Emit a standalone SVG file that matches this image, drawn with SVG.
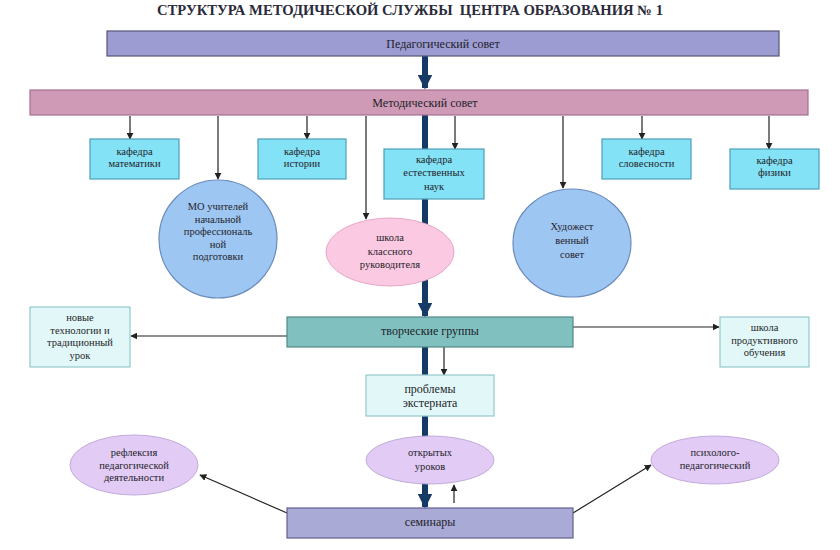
<svg xmlns="http://www.w3.org/2000/svg" width="840" height="550" viewBox="0 0 840 550" font-family="'Liberation Serif', 'Times New Roman', serif">
<defs>
<style>
text{font-family:"Liberation Serif","Times New Roman",serif;fill:#1e1e2a;text-anchor:middle}
.t{font-family:"Liberation Serif",serif;font-size:10.5px}
.m{font-family:"Liberation Serif",serif;font-size:12px}
.title{font-family:"Liberation Serif",serif;font-size:14px;font-weight:bold;fill:#2a2a3a}
.thin{stroke:#222;stroke-width:1.2;fill:none;marker-end:url(#ah)}
.thick{stroke:#163a66;stroke-width:6;fill:none;marker-end:url(#bh)}
.kaf{fill:#84e2f6;stroke:#4d9fb8;stroke-width:1.2}
.lc{fill:#e2f8f8;stroke:#94c8cc;stroke-width:1.2}
.circ{fill:#9ec6f2;stroke:#6a8cbc;stroke-width:1.2}
.lav{fill:#e2cbf5;stroke:#c2aadc;stroke-width:1}
</style>
<marker id="ah" viewBox="0 0 10 10" refX="9" refY="5" markerWidth="7" markerHeight="7" orient="auto" markerUnits="userSpaceOnUse"><path d="M0,0 L10,5 L0,10 z" fill="#222"/></marker>
<marker id="bh" viewBox="0 0 10 10" refX="9" refY="5" markerWidth="15" markerHeight="15" orient="auto" markerUnits="userSpaceOnUse"><path d="M0,0 L10,5 L0,10 z" fill="#163a66"/></marker>
</defs>
<rect width="840" height="550" fill="#fff"/>
<text class="title" x="410" y="15" textLength="506" lengthAdjust="spacingAndGlyphs" xml:space="preserve">СТРУКТУРА МЕТОДИЧЕСКОЙ СЛУЖБЫ  ЦЕНТРА ОБРАЗОВАНИЯ № 1</text>
<g id="connectors">
<line class="thick" x1="425" y1="56" x2="425" y2="88"/>
<line class="thick" x1="425" y1="115" x2="425" y2="316"/>
<line class="thick" x1="425" y1="347" x2="425" y2="507"/>
<line class="thin" x1="130" y1="116" x2="130" y2="139"/>
<line class="thin" x1="218" y1="116" x2="218" y2="179"/>
<line class="thin" x1="307" y1="116" x2="307" y2="139"/>
<line class="thin" x1="366" y1="116" x2="366" y2="219"/>
<line class="thin" x1="455" y1="116" x2="455" y2="149"/>
<line class="thin" x1="563" y1="116" x2="563" y2="188"/>
<line class="thin" x1="642" y1="116" x2="642" y2="139"/>
<line class="thin" x1="769" y1="116" x2="769" y2="149"/>
<line class="thin" x1="287" y1="336" x2="131" y2="336"/>
<line class="thin" x1="573" y1="327" x2="719" y2="327"/>
<line class="thin" x1="444" y1="347" x2="444" y2="375"/>
<line class="thin" x1="454" y1="503" x2="454" y2="485"/>
<line class="thin" x1="287" y1="513" x2="200" y2="475"/>
<line class="thin" x1="573" y1="513" x2="651" y2="465"/>
</g>
<g id="ped-sovet"><rect x="107" y="31" width="672" height="25" fill="#9c9cd2" stroke="#555577" stroke-width="1.2"/><text class="m" x="443" y="48">Педагогический совет</text></g>
<g id="met-sovet"><rect x="30" y="90" width="778" height="25" fill="#cf9ab6" stroke="#a47092" stroke-width="1.2"/><text class="m" x="425" y="107">Методический совет</text></g>
<g id="kaf-math"><rect class="kaf" x="90" y="139" width="89" height="40"/><text class="t" x="134.5" y="155">кафедра</text><text class="t" x="134.5" y="167">математики</text></g>
<g id="kaf-hist"><rect class="kaf" x="258" y="139" width="88" height="40"/><text class="t" x="302" y="155">кафедра</text><text class="t" x="302" y="167">истории</text></g>
<g id="kaf-est"><rect class="kaf" x="384" y="149" width="100" height="50"/><text class="t" x="434" y="163">кафедра</text><text class="t" x="434" y="176">естественных</text><text class="t" x="434" y="190">наук</text></g>
<g id="kaf-slov"><rect class="kaf" x="602" y="139" width="89" height="40"/><text class="t" x="646.5" y="155">кафедра</text><text class="t" x="646.5" y="167">словесности</text></g>
<g id="kaf-fiz"><rect class="kaf" x="730" y="149" width="89" height="40"/><text class="t" x="774.5" y="164">кафедра</text><text class="t" x="774.5" y="176">физики</text></g>
<g id="mo"><ellipse class="circ" cx="218" cy="239" rx="59" ry="59"/><text class="t" x="218" y="210">МО учителей</text><text class="t" x="218" y="223">начальной</text><text class="t" x="218" y="235">профессиональ</text><text class="t" x="218" y="248">ной</text><text class="t" x="218" y="260">подготовки</text></g>
<g id="shkola-kl"><ellipse cx="390" cy="252" rx="64" ry="34" fill="#fcc9e2" stroke="#e4a8c6" stroke-width="1"/><text class="t" x="390" y="241">школа</text><text class="t" x="390" y="255">классного</text><text class="t" x="390" y="268">руководителя</text></g>
<g id="hud-sovet"><ellipse class="circ" cx="572" cy="243" rx="59" ry="54"/><text class="t" x="572" y="230">Художест</text><text class="t" x="572" y="244">венный</text><text class="t" x="572" y="258">совет</text></g>
<g id="tvorch"><rect x="287" y="317" width="286" height="30" fill="#80c1bf" stroke="#4d8a88" stroke-width="1.2"/><text class="m" x="430" y="335">творческие группы</text></g>
<g id="novye"><rect class="lc" x="30" y="307" width="100" height="60"/><text class="t" x="80" y="321">новые</text><text class="t" x="80" y="334">технологии и</text><text class="t" x="80" y="346">традиционный</text><text class="t" x="80" y="359">урок</text></g>
<g id="shkola-prod"><rect class="lc" x="720" y="317" width="89" height="50"/><text class="t" x="764.5" y="331">школа</text><text class="t" x="764.5" y="344">продуктивного</text><text class="t" x="764.5" y="356">обучения</text></g>
<g id="problemy"><rect class="lc" x="366" y="375" width="128" height="41"/><text class="m" x="430" y="393">проблемы</text><text class="m" x="430" y="407">экстерната</text></g>
<g id="refleksia"><ellipse class="lav" cx="134" cy="465" rx="64" ry="30"/><text class="t" x="134" y="456">рефлексия</text><text class="t" x="134" y="469">педагогической</text><text class="t" x="134" y="481">деятельности</text></g>
<g id="otkrytyh"><ellipse class="lav" cx="430" cy="460" rx="64" ry="24"/><text class="t" x="430" y="456">открытых</text><text class="t" x="430" y="470">уроков</text></g>
<g id="psih"><ellipse class="lav" cx="715" cy="460" rx="64" ry="24"/><text class="t" x="715" y="456">психолого-</text><text class="t" x="715" y="469">педагогический</text></g>
<g id="seminary"><rect x="287" y="508" width="286" height="30" fill="#aaaad6" stroke="#606090" stroke-width="1.2"/><text class="m" x="430" y="526">семинары</text></g>
</svg>
